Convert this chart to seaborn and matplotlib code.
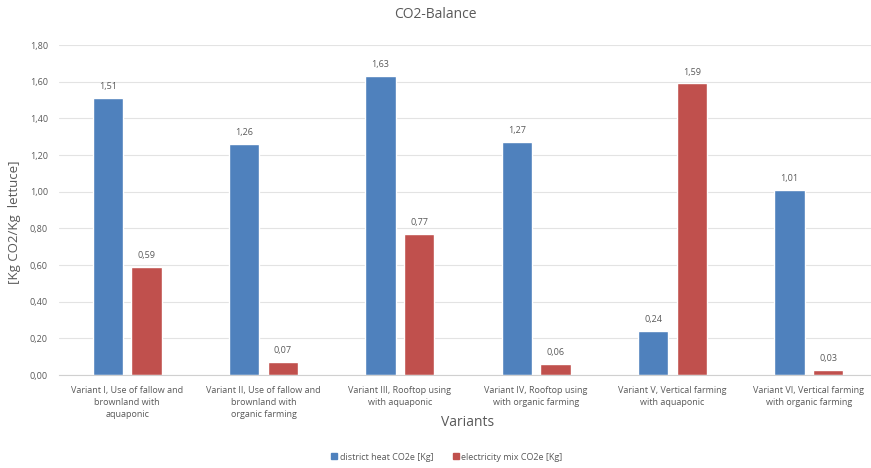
import matplotlib
matplotlib.use("Agg")
import matplotlib.pyplot as plt
import seaborn as sns
import pandas as pd
from matplotlib.lines import Line2D
from matplotlib.ticker import FuncFormatter

categories = [
    "Variant I, Use of fallow and\nbrownland with\naquaponic",
    "Variant II, Use of fallow and\nbrownland with\norganic farming",
    "Variant III, Rooftop using\nwith aquaponic",
    "Variant IV, Rooftop using\nwith organic farming",
    "Variant V, Vertical farming\nwith aquaponic",
    "Variant VI, Vertical farming\nwith organic farming",
]
series_names = ["district heat CO2e [Kg]", "electricity mix CO2e [Kg]"]
district_heat = [1.51, 1.26, 1.63, 1.27, 0.24, 1.01]
electricity_mix = [0.59, 0.07, 0.77, 0.06, 1.59, 0.03]
yticks = [0.0, 0.2, 0.4, 0.6, 0.8, 1.0, 1.2, 1.4, 1.6, 1.8]

df = pd.DataFrame({
    "Variant": categories * 2,
    "Series": [series_names[0]] * 6 + [series_names[1]] * 6,
    "Value": district_heat + electricity_mix,
})

colors = ["#4F81BD", "#C0504D"]
text_color = "#595959"

sns.set_theme(style="white")
plt.rcParams["font.family"] = ["Open Sans", "DejaVu Sans"]

fig = plt.figure(figsize=(8.71, 4.68), dpi=100)
ax = fig.add_axes([59 / 871, 1 - 375 / 468, 818 / 871, 330 / 468])

sns.barplot(data=df, x="Variant", y="Value", hue="Series", palette=colors,
            width=0.567, gap=0.207, ax=ax, legend=False, saturation=1)

ax.set_ylim(0, 1.8)
ax.set_xlim(-0.5, 5.5)
ax.set_yticks(yticks)
ax.yaxis.set_major_formatter(FuncFormatter(lambda v, p: f"{v:.2f}".replace(".", ",")))
ax.grid(axis="y", color="#E3E3E3", linewidth=0.8)
ax.set_axisbelow(True)
for s in ["top", "right", "left"]:
    ax.spines[s].set_visible(False)
ax.spines["bottom"].set_color("#D0D0D0")
ax.spines["bottom"].set_linewidth(0.8)
ax.tick_params(axis="both", length=0, colors=text_color, labelsize=6.5)
ax.tick_params(axis="x", pad=8)
ax.tick_params(axis="y", pad=8)
for lbl in ax.get_xticklabels():
    lbl.set_linespacing(1.45)

for cont in ax.containers:
    ax.bar_label(cont, labels=[f"{v:.2f}".replace(".", ",") for v in cont.datavalues],
                 padding=5, fontsize=6.5, color=text_color)

ax.set_xlabel("Variants", fontsize=10, color=text_color)
ax.xaxis.set_label_coords((468 - 59) / 818, -(415 - 375) / 330)
ax.set_ylabel("[Kg CO2/Kg  lettuce]", fontsize=9.5, color=text_color)
ax.yaxis.set_label_coords(-(59 - 21) / 818, (375 - 222) / 330)

fig.text(435 / 871, 1 - 15 / 468, "CO2-Balance", ha="center", va="center",
         fontsize=10, color=text_color)

handles = [Line2D([], [], marker="s", linestyle="", markersize=4.5,
                  markerfacecolor=c, markeredgecolor=c) for c in colors]
fig.legend(handles, series_names, loc="center", bbox_to_anchor=(446 / 871, 1 - 457 / 468),
           ncol=2, frameon=False, fontsize=6.5, labelcolor=text_color,
           handletextpad=0.1, columnspacing=2.0, handlelength=1.0)

fig.savefig("out.png", dpi=100)
